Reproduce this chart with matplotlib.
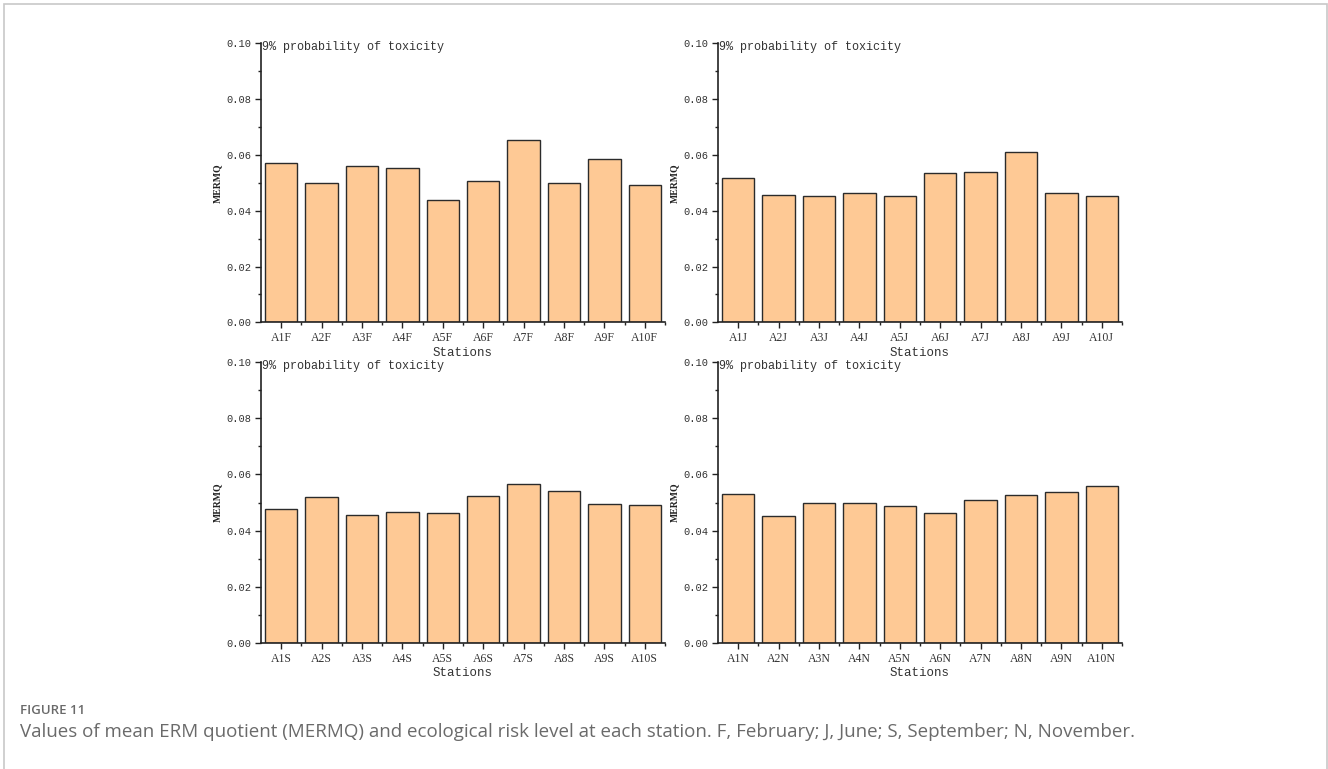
import numpy as np
import matplotlib.pyplot as plt
from matplotlib.patches import Rectangle
from matplotlib.ticker import MultipleLocator

# MERMQ per station, one list per sampling month
months = ["F", "J", "S", "N"]
mermq_F = [0.0570, 0.0498, 0.0561, 0.0552, 0.0437, 0.0508, 0.0653, 0.0500, 0.0587, 0.0491]
mermq_J = [0.0517, 0.0458, 0.0453, 0.0465, 0.0452, 0.0536, 0.0537, 0.0609, 0.0465, 0.0453]
mermq_S = [0.0476, 0.0520, 0.0457, 0.0465, 0.0462, 0.0522, 0.0565, 0.0540, 0.0495, 0.0492]
mermq_N = [0.0529, 0.0451, 0.0498, 0.0497, 0.0489, 0.0464, 0.0509, 0.0527, 0.0536, 0.0559]
values = [mermq_F, mermq_J, mermq_S, mermq_N]

note = "9% probability of toxicity"
caption_head = "FIGURE 11"
caption = ("Values of mean ERM quotient (MERMQ) and ecological risk level at each station. "
           "F, February; J, June; S, September; N, November.")

fig = plt.figure(figsize=(13.28, 7.69), dpi=100)

# thin grey frame around the figure block
fig.patches.append(Rectangle((4 / 1328, -0.05), 1323 / 1328, 1.05 - 4 / 769,
                             transform=fig.transFigure, fill=False,
                             edgecolor="#c8c8c8", linewidth=1.2))

W, H = 1328, 769
# panel boxes in pixels: left, top(0.10), bottom(0.00)
boxes = [(261, 43.3, 322.3), (718, 43.3, 322.3), (261, 362, 643), (718, 362, 643)]
axw = 404

mono = "Liberation Mono"
txt = "#333333"

for (left, top, bottom), m, vals in zip(boxes, months, values):
    ax = fig.add_axes([left / W, 1 - bottom / H, axw / W, (bottom - top) / H])
    x = np.arange(len(vals))
    ax.bar(x, vals, width=0.8, color="#fec995", edgecolor="#2b2b2b", linewidth=1.0)
    ax.set_xlim(-0.5, 9.5)
    ax.set_ylim(0, 0.10)
    ax.set_xticks(x)
    ax.set_xticklabels([f"A{i + 1}{m}" for i in x], fontfamily="Liberation Serif",
                       fontsize=8.5, color=txt)
    ax.set_xticks(x + 0.5, minor=True)
    ax.yaxis.set_major_locator(MultipleLocator(0.02))
    ax.yaxis.set_minor_locator(MultipleLocator(0.01))
    ax.set_yticklabels([f"{v:.2f}" for v in ax.get_yticks()], fontfamily=mono,
                       fontsize=7.5, color=txt)
    ax.tick_params(which="major", length=4, width=1, color="#222222", pad=3)
    ax.tick_params(which="minor", length=2, width=1, color="#222222")
    for s in ["top", "right"]:
        ax.spines[s].set_visible(False)
    for s in ["left", "bottom"]:
        ax.spines[s].set_linewidth(1.2)
        ax.spines[s].set_color("#222222")
    ax.set_xlabel("Stations", fontfamily=mono, fontsize=9, color=txt, labelpad=2)
    ax.set_ylabel("MERMQ", fontfamily="Liberation Serif", fontweight="bold",
                  fontsize=7, color="#222222", labelpad=3)
    ax.text(-0.47, 0.0985, note, fontfamily=mono, fontsize=8.5, color=txt,
            va="center", ha="left")

fig.text(20 / W, 1 - 710 / H, caption_head, fontfamily="Open Sans", fontsize=9.5,
         fontweight="semibold", color="#6a6a6a", va="center", ha="left")
fig.text(20 / W, 1 - 732 / H, caption, fontfamily="Open Sans", fontsize=13.5,
         color="#6a6a6a", va="center", ha="left")

fig.savefig("out.png", dpi=100)
